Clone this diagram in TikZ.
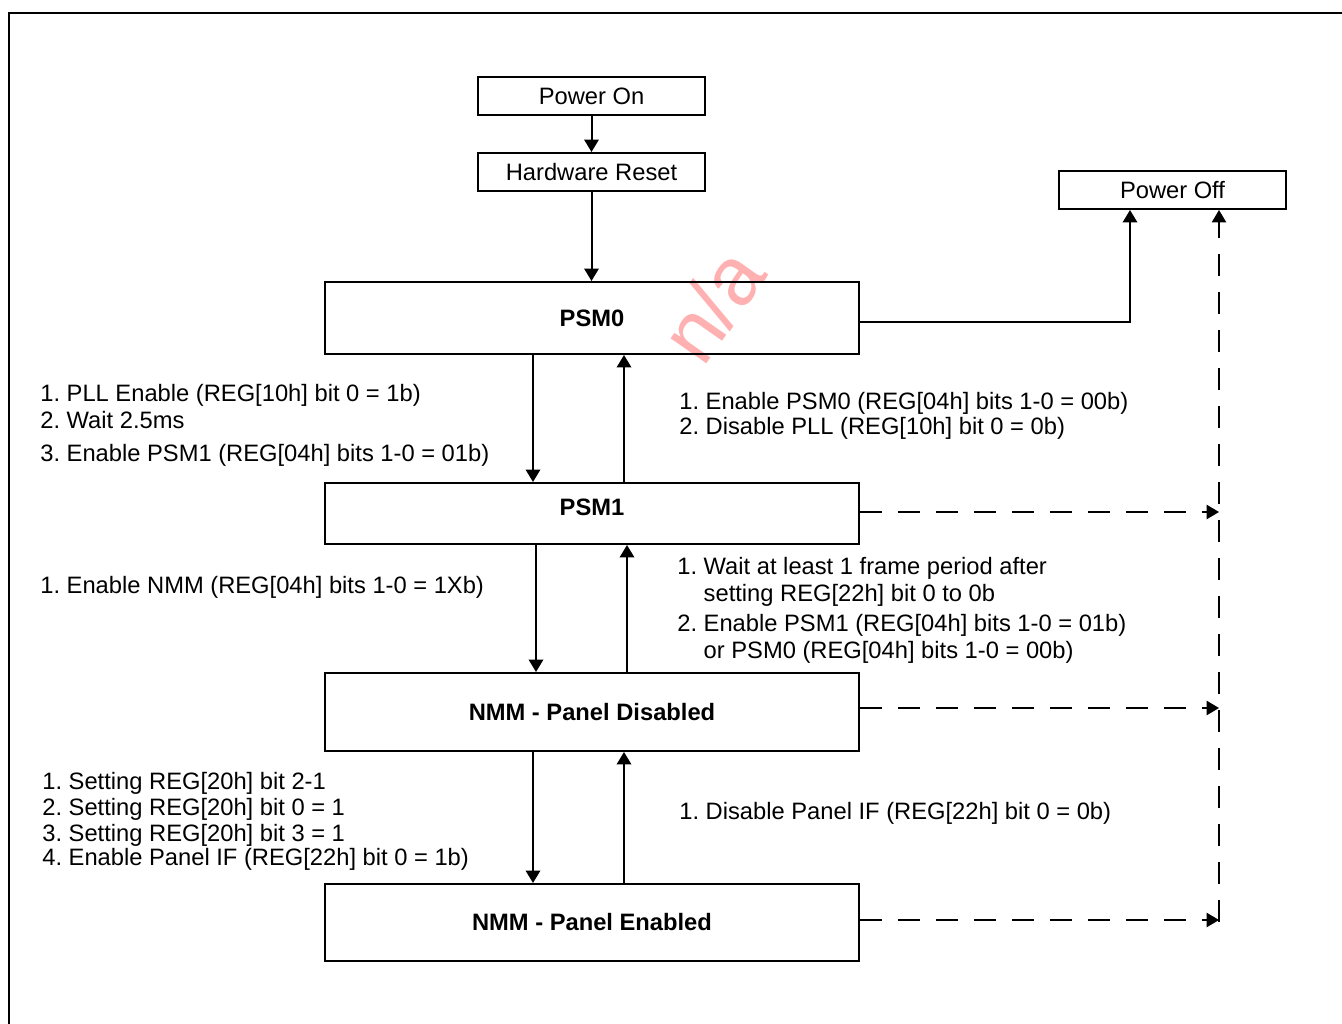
\documentclass[tikz,border=0pt]{standalone}
\usepackage{fontspec}
\setmainfont{Liberation Sans}
\usepackage{tikz}
\usetikzlibrary{arrows.meta,calc}
\tikzset{>={Triangle[length=0.25cm,width=0.29cm]}}
\definecolor{wmk}{HTML}{FFB0B0}
\newcommand{\txt}{\fontsize{13.5pt}{14.8pt}\selectfont\frenchspacing}
\tikzset{
  smallbox/.style={draw,line width=0.04cm,inner sep=0pt,minimum width=4.54cm,minimum height=0.76cm,font=\txt},
  bigbox/.style={draw,line width=0.04cm,inner sep=0pt,minimum width=10.68cm,font=\txt\bfseries},
  steps/.style={anchor=west,align=left,inner sep=0pt,font=\txt},
  flow/.style={->,line width=0.04cm},
  flowdash/.style={->,line width=0.025cm,dash pattern=on 0.44cm off 0.32cm},
  stamp/.style={inner sep=0pt,text=wmk,font=\fontsize{47pt}{47pt}\selectfont},
}

\begin{document}
\begin{tikzpicture}[x=0.02cm,y=-0.02cm]
\useasboundingbox (0,0) rectangle (1342,1024);
\draw[line width=0.04cm] (9,1024) -- (9,13) -- (1342,13);
\node[stamp,rotate=55] (na) at (712,305) {n/a};
% states
\node[smallbox] (pon) at (591.5,96) {Power On};
\node[smallbox] (hwr) at (591.5,172) {Hardware Reset};
\node[smallbox] (poff) at (1172.5,190) {Power Off};
\node[bigbox,minimum height=1.44cm] (psm0) at (592,318) {PSM0};
\node[bigbox,minimum height=1.22cm,text depth=7.4pt] (psm1) at (592,513.5) {PSM1};
\node[bigbox,minimum height=1.56cm] (nmmd) at (592,712) {NMM - Panel Disabled};
\node[bigbox,minimum height=1.54cm] (nmme) at (592,922.5) {NMM - Panel Enabled};
% columns of the arrows
\coordinate (dnA) at (533,0);
\coordinate (upA) at (624,0);
\coordinate (dnB) at (536,0);
\coordinate (upB) at (627,0);
\coordinate (offx) at (1130,0);
\coordinate (dashx) at (1219,0);
\draw[flow] (pon) -- (hwr);
\draw[flow] (hwr.south) -- (hwr.south |- psm0.north);
\draw[flow] (psm0.south -| dnA) -- (psm1.north -| dnA);
\draw[flow] (psm1.north -| upA) -- (psm0.south -| upA);
\draw[flow] (psm1.south -| dnB) -- (nmmd.north -| dnB);
\draw[flow] (nmmd.north -| upB) -- (psm1.south -| upB);
\draw[flow] (nmmd.south -| dnA) -- (nmme.north -| dnA);
\draw[flow] (nmme.north -| upA) -- (nmmd.south -| upA);
\draw[flow] ([yshift=-0.08cm]psm0.east) -| (poff.south -| offx);
% dashed paths to power off
\draw[flowdash] ([yshift=0.03cm]psm1.east) -- ([yshift=0.03cm]psm1.east -| dashx);
\draw[flowdash] ([yshift=0.08cm]nmmd.east) -- ([yshift=0.08cm]nmmd.east -| dashx);
\draw[flowdash] ([yshift=0.05cm]nmme.east) -- ([yshift=0.05cm]nmme.east -| dashx);
\draw[flowdash] ([yshift=0.01cm]nmme.east -| dashx) -- (poff.south -| dashx);
% step lists
\node[steps] (stA) at (40,425.5) {1. PLL Enable (REG[10h] bit 0 = 1b)\\[0.6pt]
  2. Wait 2.5ms\\[4pt]
  3. Enable PSM1 (REG[04h] bits 1-0 = 01b)};
\node[steps] (stB) at (40,587) {1. Enable NMM (REG[04h] bits 1-0 = 1Xb)};
\node[steps] (stC) at (42,821) {1. Setting REG[20h] bit 2-1\\
  2. Setting REG[20h] bit 0 = 1\\
  3. Setting REG[20h] bit 3 = 1\\[-1pt]
  4. Enable Panel IF (REG[22h] bit 0 = 1b)};
\node[steps] (stD) at (679,415.5) {1. Enable PSM0 (REG[04h] bits 1-0 = 00b)\\[-0.6pt]
  2. Disable PLL (REG[10h] bit 0 = 0b)};
\node[steps] (stE) at (677,610) {1. Wait at least 1 frame period after\\[0.6pt]
  \hphantom{1.}\ setting REG[22h] bit 0 to 0b\\[2.3pt]
  2. Enable PSM1 (REG[04h] bits 1-0 = 01b)\\[0.6pt]
  \hphantom{2.}\ or PSM0 (REG[04h] bits 1-0 = 00b)};
\node[steps] (stF) at (679,813) {1. Disable Panel IF (REG[22h] bit 0 = 0b)};
\end{tikzpicture}
\end{document}
